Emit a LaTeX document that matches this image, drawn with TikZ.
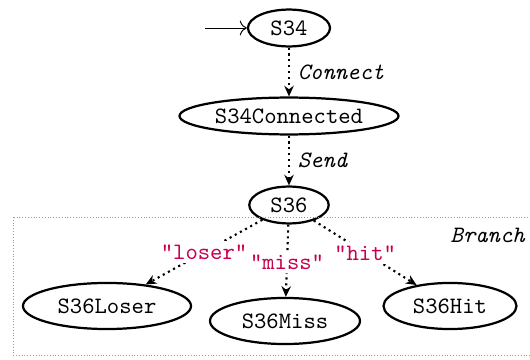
\documentclass[tikz,border=0pt]{standalone}
\usetikzlibrary{arrows.meta,shapes.geometric}
\definecolor{lblred}{RGB}{200,0,80}
\begin{document}
\begin{tikzpicture}[x=0.4255pt,y=-0.4255pt,
  state/.style={ellipse,draw,line width=0.95pt,inner sep=0pt,font=\ttfamily},
  trans/.style={line width=0.9pt,dash pattern=on 0.9pt off 1.6pt,-{Stealth[length=4.5pt,width=4pt]}},
  actlbl/.style={font=\ttfamily\itshape},
  caselbl/.style={font=\ttfamily,text=lblred,fill=white,inner sep=1.5pt}]
\useasboundingbox (0,0) rectangle (530,360);
% states
\node[state,minimum width=34.9pt,minimum height=15.7pt] (s34) at (289,28) {S34};
\node[state,minimum width=93.2pt,minimum height=15.7pt] (s34c) at (289,116) {S34Connected};
\node[state,minimum width=33.8pt,minimum height=15.7pt] (s36) at (289,205) {S36};
% branch container
\draw[gray!80,line width=0.4pt,dash pattern=on 0.4pt off 0.8pt] (13,217) rectangle (540,355);
\node[actlbl,anchor=east] (branch) at (533,235) {Branch};
\node[state,minimum width=71.5pt,minimum height=19.6pt] (loser) at (107,306) {S36Loser};
\node[state,minimum width=63.8pt,minimum height=19.6pt] (miss) at (285,321) {S36Miss};
\node[state,minimum width=56.6pt,minimum height=19.6pt] (hit) at (450,306) {S36Hit};
% initial arrow
\coordinate (init) at (205,28);
\draw[-{To[length=3pt]}] (init) -- (s34);
% transitions
\draw[trans] (s34) -- node[actlbl,right] {Connect} (s34c);
\draw[trans] (s34c) -- node[actlbl,right] {Send} (s36);
\draw[trans] (s36) -- node[caselbl,pos=0.5] {"loser"} (loser);
\draw[trans] (s36) -- node[caselbl,pos=0.52] {"miss"} (miss);
\draw[trans] (s36) -- node[caselbl,pos=0.5] {"hit"} (hit);
\end{tikzpicture}
\end{document}
